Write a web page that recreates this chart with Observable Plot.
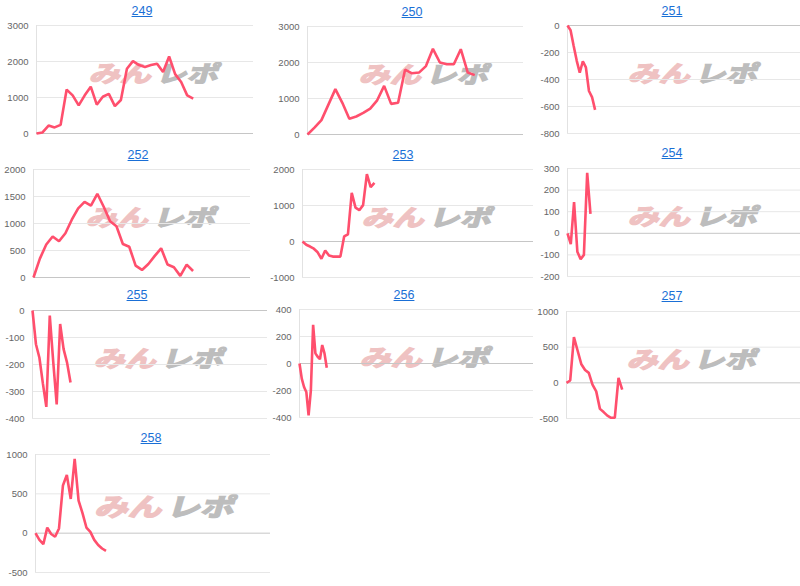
<!DOCTYPE html>
<html><head><meta charset="utf-8">
<script src="https://cdn.jsdelivr.net/npm/d3@7"></script>
<script src="https://cdn.jsdelivr.net/npm/@observablehq/plot@0.6"></script>
<style>
body{margin:0;background:#fff;}
#root{position:relative;width:800px;height:586px;overflow:hidden;font-family:"Liberation Sans",Arial,sans-serif;}
.title{position:absolute;transform:translate(-50%,-50%);font-size:12.5px;color:#1a6fd6;text-decoration:underline;white-space:nowrap;}
.wm{position:absolute;white-space:nowrap;font-family:"Noto Sans CJK JP","Noto Sans CJK SC",sans-serif;font-weight:700;font-size:31px;line-height:1;letter-spacing:0px;}
.wm .a{color:#efc2c2;-webkit-text-stroke:2px #efc2c2}
.wm .b{color:#bdbdbd;-webkit-text-stroke:2px #bdbdbd;margin-left:5px}
.chart{position:absolute;}
</style></head><body><div id="root"></div>
<script>
// ---- data ----
const titles = ["249","250","251","252","253","254","255","256","257","258"];
const slots = [37, 32, 77, 35, 62, 72, 69, 104, 64, 61];
const s249 = [0,30,220,170,240,1220,1060,780,1060,1300,800,1020,1100,760,930,1800,2010,1900,1850,1900,1940,1710,2140,1650,1430,1060,970];
const s250 = [0,190,400,830,1260,880,440,500,600,720,950,1350,850,880,1800,1700,1720,1900,2380,2000,1950,1950,2370,1720,1650];
const s251 = [0,-35,-150,-260,-350,-265,-310,-485,-530,-625];
const s252 = [0,350,610,760,670,820,1070,1280,1400,1330,1550,1310,1040,950,620,570,220,140,250,400,540,240,190,30,240,120];
const s253 = [0,-90,-140,-200,-300,-480,-250,-390,-420,-420,-420,140,200,1350,940,870,1010,1870,1510,1630];
const s254 = [0,-50,145,-85,-120,-100,280,90];
const s255 = [0,-125,-175,-270,-357,-19,-190,-348,-50,-143,-193,-267];
const s256 = [0,-112,-174,-211,-385,-199,286,75,50,32,137,75,-32];
const s257 = [0,33,640,450,260,180,140,-25,-120,-365,-410,-460,-490,-490,70,-95];
const s258 = [0,-85,-140,70,-10,-45,60,605,740,435,945,415,255,72,17,-85,-150,-195,-225];
const series = [s249,s250,s251,s252,s253,s254,s255,s256,s257,s258];
const yTicks = [
  [0,1000,2000,3000],[0,1000,2000,3000],[-800,-600,-400,-200,0],
  [0,500,1000,1500,2000],[-1000,0,1000,2000],[-200,-100,0,100,200,300],
  [-400,-300,-200,-100,0],[-400,-200,0,200,400],[-500,0,500,1000],[-500,0,500,1000]
];
const watermarkA = "みん", watermarkB = "レポ";

// ---- layout (plot area boxes: left, top, right, bottom; title centre) ----
const boxes = [
  [36,25,253,133],[307,26,523,134],[567,25,800,133],
  [33,169,250,277],[302,169,533,277],[567,168,800,276],
  [32,310,267,418],[299,309,533,417],[566,311,800,418],
  [35,454,270,572]
];
const titlePos = [[142,11],[412,12],[672,11],[138,155],[403,155],[672,153],[137,295],[404,295],[672,296],[151,438]];

const root = document.getElementById("root");
series.forEach((vals, k) => {
  const [L,T,R,B] = boxes[k];
  const ml = 48, mr = 1, mt = 6, mb = 6;
  const ticks = yTicks[k];
  // watermark
  const wm = document.createElement("div");
  wm.className = "wm";
  const big = (B - T) > 112;
  const cx = (L + R) / 2 + (big ? 14 : 11), cy = (T + B) / 2 + (big ? -8 : -7);
  wm.style.left = cx + "px"; wm.style.top = cy + "px";
  wm.style.transform = `translate(-50%,-50%) skewX(-16deg) scale(${big?1.08:1},${big?0.8:0.74})`;
  wm.innerHTML = `<span class="a">${watermarkA}</span><span class="b">${watermarkB}</span>`;
  root.appendChild(wm);
  // chart
  const p = Plot.plot({
    width: R - L + ml + mr, height: B - T + mt + mb,
    marginLeft: ml, marginRight: mr, marginTop: mt, marginBottom: mb,
    style: {background: "transparent", fontFamily: "Liberation Sans, Arial, sans-serif", fontSize: "9.5px", color: "#666", overflow: "visible"},
    x: {domain: [0, slots[k] - 1], axis: null},
    y: {domain: [d3.min(ticks), d3.max(ticks)], ticks: ticks, tickSize: 0, tickPadding: 8, label: null, tickFormat: d => String(d)},
    marks: [
      Plot.ruleY(ticks.filter(t => t !== 0), {stroke: "#e7e7e7", strokeWidth: 1}),
      Plot.ruleY([0], {stroke: "#c6c6c6", strokeWidth: 1}),
      Plot.ruleX([0], {stroke: "#e2e2e2", strokeWidth: 1}),
      Plot.lineY(vals, {x: (d, i) => i, y: d => d, stroke: "#ff4f6d", strokeWidth: 2.6, strokeLinejoin: "miter", strokeLinecap: "butt"})
    ]
  });
  p.classList.add("chart");
  p.style.left = (L - ml) + "px";
  p.style.top = (T - mt) + "px";
  root.appendChild(p);
  // title
  const t = document.createElement("a");
  t.className = "title";
  t.href = "#";
  t.textContent = titles[k];
  t.style.left = titlePos[k][0] + "px";
  t.style.top = titlePos[k][1] + "px";
  root.appendChild(t);
});
</script>
</body></html>
